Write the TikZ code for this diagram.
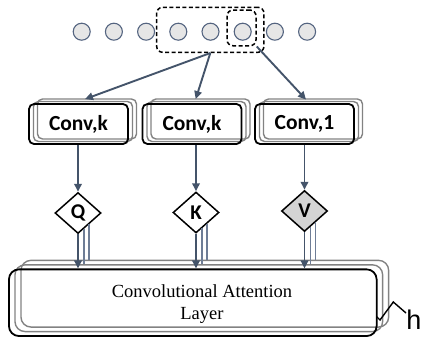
\documentclass[tikz,border=0pt]{standalone}
\usepackage{fontspec}
\newfontfamily\carlito{Carlito}
\newfontfamily\lserif{Liberation Serif}
\newfontfamily\lsans{Liberation Sans}
\usetikzlibrary{shapes.geometric,arrows.meta,calc}
\definecolor{slate}{RGB}{68,84,106}
\definecolor{cborder}{RGB}{84,100,128}
\definecolor{cfill}{RGB}{230,230,230}
\definecolor{shadowline}{RGB}{130,130,130}
\definecolor{gline}{RGB}{110,125,150}
\definecolor{vfill}{RGB}{212,212,212}
\begin{document}
\begin{tikzpicture}[x=1pt,y=-1pt,
 dot/.style={circle,draw=cborder,fill=cfill,line width=1.1pt,minimum size=17pt,inner sep=0},
 selbox/.style={draw=black,dash pattern=on 4pt off 2.5pt,line width=1.5pt,rounded corners=6pt,inner sep=0},
 convbox/.style={draw=black,line width=1.8pt,rounded corners=5pt,minimum width=99pt,minimum height=40pt,inner sep=0,font=\carlito\bfseries\fontsize{21.5}{24}\selectfont},
 convback/.style={draw=shadowline,line width=1.4pt,rounded corners=5pt,minimum width=99pt,minimum height=40pt,inner sep=0},
 layerbox/.style={draw=black,line width=1.8pt,rounded corners=10pt,minimum width=367.7pt,minimum height=66.7pt,inner sep=0},
 layerback/.style={draw=shadowline,line width=1.4pt,rounded corners=10pt,minimum width=367.7pt,minimum height=66.7pt,inner sep=0},
 qkv/.style={diamond,draw=black,line width=1.5pt,aspect=1.12,minimum width=46pt,minimum height=41pt,inner sep=0,fill=white,font=\carlito\bfseries\fontsize{21}{24}\selectfont},
 conn/.style={draw=slate,line width=1.9pt,-{Triangle[length=8pt,width=7.5pt]}},
 gl/.style={draw=gline,line width=1.5pt}
]
\useasboundingbox (0,0) rectangle (421,340);
% input sequence
\foreach \i/\x in {1/81.7,2/113.9,3/146.1,4/178.3,5/210.5,6/242.7,7/274.9,8/307.1}
  \node[dot] (p\i) at (\x,31.7) {};
\node[selbox,minimum width=107.3pt,minimum height=45pt] (big) at (210.3,29.8) {};
\node[selbox,minimum width=29pt,minimum height=35.7pt] (small) at (241.5,27.9) {};
% conv stacks
\foreach \n/\x in {1/78.5,2/192,3/304.5}{
  \node[convback] (c\n c) at (\x+8.5,119) {};
  \node[convback] (c\n b) at (\x+4.5,121.5) {};
}
\node[convbox] (c1) at (78.5,124) {Conv,k};
\node[convbox] (c2) at (192,124) {Conv,k};
\node[convbox] (c3) at (304.5,124) {Conv,1};
% arrows to convs
\coordinate (e1) at ([shift={(6.5,-4)}]c1.north);
\coordinate (e2) at ([shift={(3.7,-4)}]c2.north);
\coordinate (e3) at ([shift={(1.5,-3.5)}]c3.north);
\draw[conn] (big.south) -- (e1);
\draw[conn] (big.south) -- (e2);
\draw[conn] (small.south east) -- (e3);
% layer stack
\node[layerback] (L2) at (204.8,293.7) {};
\node[layerback] (L1) at (198.8,298.2) {};
\node[layerbox] (L0) at (192.8,302.7) {};
\node[font=\lserif\fontsize{18.5}{22}\selectfont,align=center] (lt) at (202,304) {Convolutional Attention\\Layer};
% diamonds
\node[qkv] (Q) at (78,213) {Q};
\node[qkv] (K) at (196,212.5) {K};
\node[qkv,fill=vfill] (V) at (304.5,211) {V};
\foreach \d/\c in {Q/c1,K/c2,V/c3}{
  \draw[conn] (\d.north |- \c.south) -- (\d.north);
  \coordinate (\d a) at ([shift={(6,-5.3)}]\d.south);
  \coordinate (\d b) at ([shift={(11,-9.8)}]\d.south);
  \draw[gl] (\d b) -- (\d b |- L2.north);
  \draw[gl] (\d a) -- (\d a |- L1.north);
  \draw[conn] (\d.south) -- (\d.south |- L0.north);
}
% height bracket
\draw[line width=1.4pt] (376.7,316.7) -- (380,320) -- (393.3,302) -- (406,313);
\node[font=\lsans\fontsize{27}{30}\selectfont] (h) at (414,320) {h};
\end{tikzpicture}
\end{document}
